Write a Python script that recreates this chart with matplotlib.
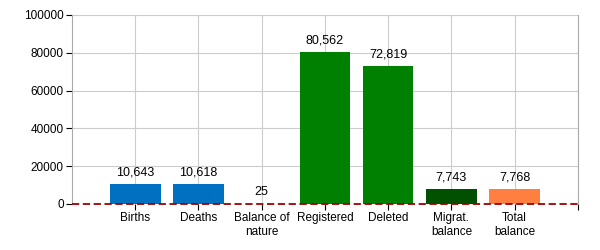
import matplotlib
matplotlib.use("Agg")
import matplotlib.pyplot as plt

categories = ["Births", "Deaths", "Balance of\nnature", "Registered", "Deleted", "Migrat.\nbalance", "Total\nbalance"]
values = [10643, 10618, 25, 80562, 72819, 7743, 7768]
colors = ["#0070C0", "#0070C0", "#7B1F1F", "#008000", "#008000", "#005000", "#FF7F40"]
y_ticks = [0, 20000, 40000, 60000, 80000, 100000]

plt.rcParams['font.family'] = ['Liberation Sans', 'DejaVu Sans']
plt.rcParams['font.size'] = 8.5

fig = plt.figure(figsize=(6, 2.5), dpi=100)
ax = fig.add_axes([0.12, 0.184, 0.843, 0.756])

pos = list(range(1, len(categories) + 1))
ax.bar(pos, values, width=0.8, color=colors, zorder=3)
for p, v in zip(pos, values):
    ax.text(p, v + 3000, f"{v:,}", ha="center", va="bottom", fontsize=9, zorder=4)

ax.axhline(0, color="#A00000", linestyle=(0, (4, 2)), linewidth=1.3, zorder=5, clip_on=False)

ax.set_xlim(0, 8)
ax.set_ylim(0, 100000)
ax.set_xticks(pos + [8])
ax.set_xticklabels(categories + [""])
ax.set_yticks(y_ticks)
ax.set_yticklabels([str(t) for t in y_ticks])
ax.grid(True, color="#CCCCCC", linewidth=0.8, zorder=0)
ax.tick_params(axis="both", length=4, width=0.8, color="black", pad=2)
ax.spines["top"].set_visible(False)
for s in ["left", "right"]:
    ax.spines[s].set_color("#AAAAAA")
ax.spines["bottom"].set_visible(False)

fig.savefig("out.png", dpi=100)
